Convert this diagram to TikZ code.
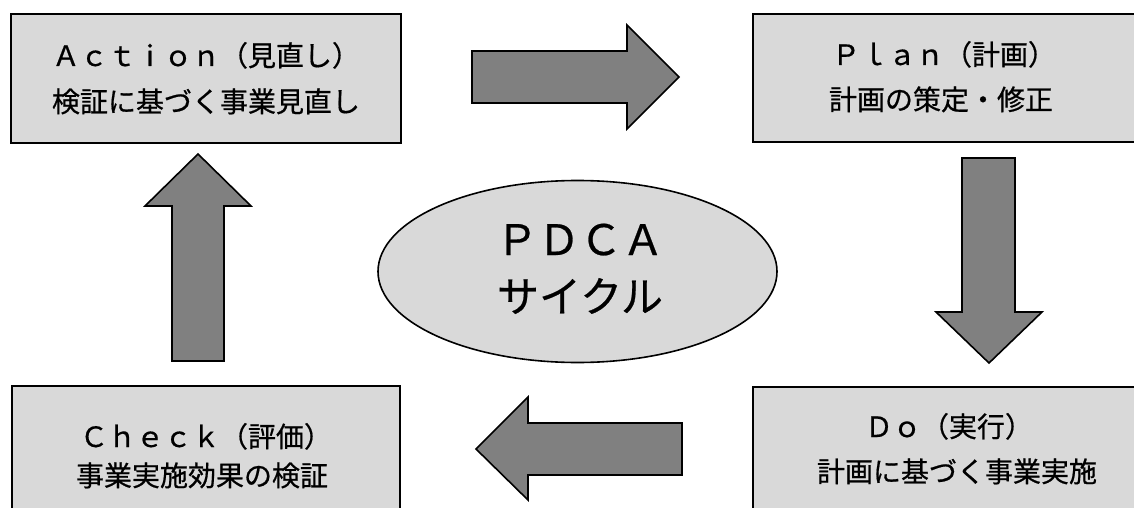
\documentclass[tikz,border=0pt]{standalone}
\usepackage{fontspec}
\setmainfont{Noto Sans CJK JP}[FakeBold=0.6]
\usetikzlibrary{shapes.geometric}
\definecolor{boxgray}{RGB}{217,217,217}
\definecolor{arrowgray}{RGB}{128,128,128}
\tikzset{
  box/.style={draw=black, line width=2pt, fill=boxgray},
  blockarrow/.style={draw=black, line width=1.6pt, fill=arrowgray, line join=miter},
  txt/.style={anchor=base, inner sep=0pt, font=\fontsize{28}{28}\selectfont},
  bigtxt/.style={anchor=base, inner sep=0pt, font=\fontsize{42}{42}\selectfont}
}
\begin{document}
\begin{tikzpicture}[x=1pt,y=-1pt]
\useasboundingbox (0,0) rectangle (1134,508);
\fill[white] (0,0) rectangle (1134,508);
% boxes
\draw[box] (11,14) rectangle (401,143);
\draw[box] (753,14) rectangle (1150,142);
\draw[box] (12,386) rectangle (400,530);
\draw[box] (753,387) rectangle (1150,530);
% texts
\node[txt] (a1) at (206,66) {Ａｃｔｉｏｎ（見直し）};
\node[txt] (a2) at (206,112) {検証に基づく事業見直し};
\node[txt] (p1) at (944,65) {Ｐｌａｎ（計画）};
\node[txt] (p2) at (941,110) {計画の策定・修正};
\node[txt] (c1) at (206,447) {Ｃｈｅｃｋ（評価）};
\node[txt] (c2) at (202,486) {事業実施効果の検証};
\node[txt] (d1) at (949,437) {Ｄｏ（実行）};
\node[txt] (d2) at (957,482) {計画に基づく事業実施};
% ellipse
\draw[draw=black, line width=1.6pt, fill=boxgray] (577.5,271.5) ellipse [x radius=199.5, y radius=91];
\node[bigtxt] (e1) at (580,255) {ＰＤＣＡ};
\node[bigtxt] (e2) at (580,312) {サイクル};
% block arrows
\draw[blockarrow] (472,51) -- (627,51) -- (627,25) -- (679,77) -- (627,129) -- (627,103) -- (472,103) -- cycle;
\draw[blockarrow] (962,158) -- (1015,158) -- (1015,312) -- (1042,312) -- (989,363) -- (936,312) -- (962,312) -- cycle;
\draw[blockarrow] (682,423) -- (528,423) -- (528,397) -- (476,449) -- (528,500) -- (528,475) -- (682,475) -- cycle;
\draw[blockarrow] (172,361) -- (172,206) -- (145,206) -- (198,154) -- (251,206) -- (224,206) -- (224,361) -- cycle;
\end{tikzpicture}
\end{document}
